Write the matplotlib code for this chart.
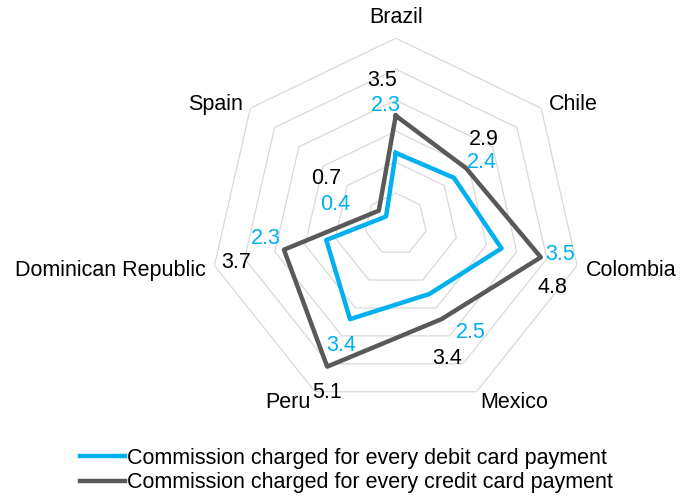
import numpy as np
import matplotlib.pyplot as plt

plt.rcParams['font.family'] = ['Liberation Sans', 'DejaVu Sans']

countries = ["Brazil", "Chile", "Colombia", "Mexico", "Peru", "Dominican Republic", "Spain"]
debit = [2.3, 2.4, 3.5, 2.5, 3.4, 2.3, 0.4]
credit = [3.5, 2.9, 4.8, 3.4, 5.1, 3.7, 0.7]

blue = "#00b0f0"
grey = "#595959"

# label offsets in pixels (hand placed, like the original)
debit_off = [(-10, 50), (28, 18), (59, -4), (41, -36), (-9, -24), (-60, 4), (-51, 14)]
credit_off = [(-14, 38), (18, 31), (12, -28), (6, -37), (0, -23), (-48, -10), (-53, 35)]

n = len(countries)
angles = np.arange(n) * 2 * np.pi / n
closed = np.append(angles, angles[0])

fig = plt.figure(figsize=(6.8, 4.96), dpi=100)
ax = fig.add_axes([0.3085, 0.173, 0.547, 0.75], projection='polar')
ax.set_theta_offset(np.pi / 2)
ax.set_theta_direction(-1)
ax.set_ylim(0, 6)
ax.grid(False)
ax.spines['polar'].set_visible(False)
ax.set_xticks([])
ax.set_yticks([])
ax.patch.set_alpha(0)

for r in range(1, 7):
    ax.plot(closed, [r] * (n + 1), color="#d9d9d9", lw=0.9, zorder=1)

ax.plot(closed, debit + debit[:1], color=blue, lw=3.2, zorder=3,
        label="Commission charged for every debit card payment")
ax.plot(closed, credit + credit[:1], color=grey, lw=3.2, zorder=3,
        label="Commission charged for every credit card payment")

for i in range(n):
    ax.annotate(f"{debit[i]:.1f}", (angles[i], debit[i]), xytext=debit_off[i],
                textcoords='offset pixels', ha='center', va='center_baseline',
                fontsize=15.5, color=blue)
    ax.annotate(f"{credit[i]:.1f}", (angles[i], credit[i]), xytext=credit_off[i],
                textcoords='offset pixels', ha='center', va='center_baseline',
                fontsize=15.5, color='black')

# category labels
for i, name in enumerate(countries):
    x = np.sin(angles[i])
    if abs(x) < 0.01:
        ax.text(angles[i], 6.75, name, ha='center', va='center_baseline', fontsize=15.5)
    else:
        ax.text(angles[i], 6.3, name, ha='left' if x > 0 else 'right',
                va='center_baseline', fontsize=15.5)

h, l = ax.get_legend_handles_labels()
fig.legend(h, l, loc='upper left', bbox_to_anchor=(0.1176, 0.097), frameon=False,
           fontsize=15.5, handlelength=2.1, handletextpad=0.1, borderpad=0,
           borderaxespad=0, labelspacing=0.15)

fig.savefig("out.png", dpi=100)
